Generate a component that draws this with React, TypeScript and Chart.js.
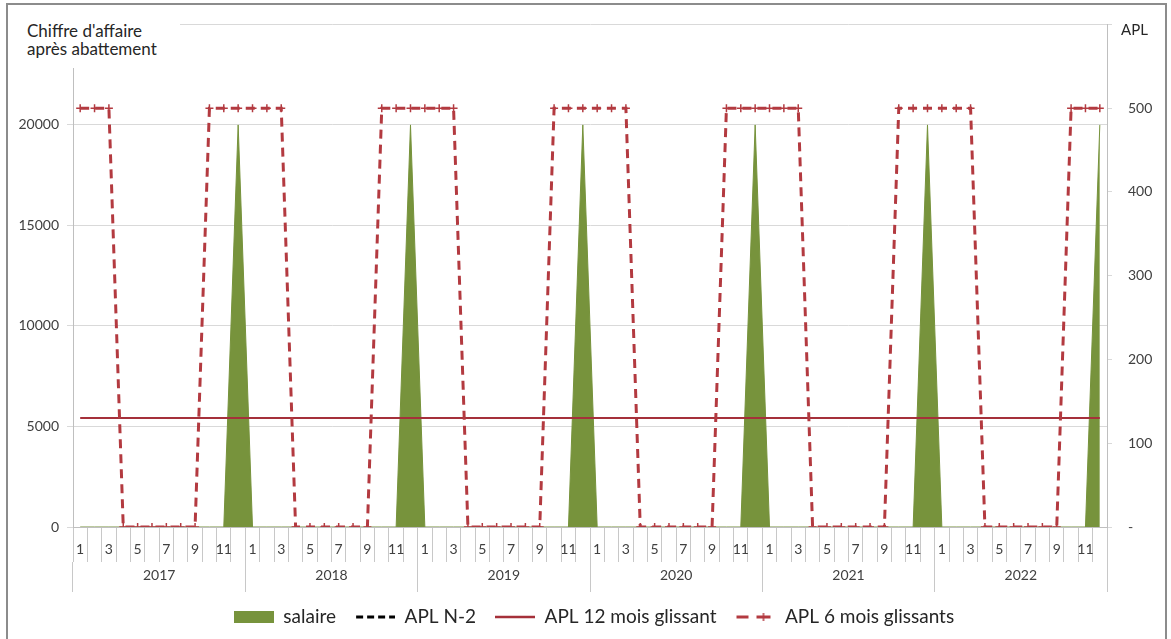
import React, { useEffect, useRef } from 'react';
import { Chart, registerables } from 'chart.js';

Chart.register(...registerables);

const YEARS = ['2017', '2018', '2019', '2020', '2021', '2022'];
const MONTHS = ['1', '2', '3', '4', '5', '6', '7', '8', '9', '10', '11', '12'];
const CATEGORIES = YEARS.flatMap(() => MONTHS);

const SALAIRE = [
  0, 0, 0, 0, 0, 0, 0, 0, 0, 0, 0, 20000,
  0, 0, 0, 0, 0, 0, 0, 0, 0, 0, 0, 20000,
  0, 0, 0, 0, 0, 0, 0, 0, 0, 0, 0, 20000,
  0, 0, 0, 0, 0, 0, 0, 0, 0, 0, 0, 20000,
  0, 0, 0, 0, 0, 0, 0, 0, 0, 0, 0, 20000,
  0, 0, 0, 0, 0, 0, 0, 0, 0, 0, 0, 20000,
];

const APL_N2: (number | null)[] = [];

const APL_12 = [
  130, 130, 130, 130, 130, 130, 130, 130, 130, 130, 130, 130,
  130, 130, 130, 130, 130, 130, 130, 130, 130, 130, 130, 130,
  130, 130, 130, 130, 130, 130, 130, 130, 130, 130, 130, 130,
  130, 130, 130, 130, 130, 130, 130, 130, 130, 130, 130, 130,
  130, 130, 130, 130, 130, 130, 130, 130, 130, 130, 130, 130,
  130, 130, 130, 130, 130, 130, 130, 130, 130, 130, 130, 130,
];

const APL_6 = [
  500, 500, 500, 0, 0, 0, 0, 0, 0, 500, 500, 500,
  500, 500, 500, 0, 0, 0, 0, 0, 0, 500, 500, 500,
  500, 500, 500, 0, 0, 0, 0, 0, 0, 500, 500, 500,
  500, 500, 500, 0, 0, 0, 0, 0, 0, 500, 500, 500,
  500, 500, 500, 0, 0, 0, 0, 0, 0, 500, 500, 500,
  500, 500, 500, 0, 0, 0, 0, 0, 0, 500, 500, 500,
];

const LEGEND_LABELS = ['salaire', 'APL N-2', 'APL 12 mois glissant', 'APL 6 mois glissants'];

const GREEN = '#77933C';
const RED_DASH = '#B33A40';
const RED_SOLID = '#A5303A';
const TEXT = '#404040';
const FONT = "Lato, 'Open Sans', sans-serif";

function makeIcon(draw: (ctx: CanvasRenderingContext2D) => void) {
  const c = document.createElement('canvas');
  c.width = 40;
  c.height = 14;
  const ctx = c.getContext('2d')!;
  draw(ctx);
  return c;
}

export default function App() {
  const ref = useRef<HTMLCanvasElement>(null);

  useEffect(() => {
    document.body.style.margin = '0';
    const canvas = ref.current!;
    Chart.defaults.font.family = FONT;

    const icons = [
      makeIcon((ctx) => {
        ctx.fillStyle = GREEN;
        ctx.fillRect(0, 1, 40, 12);
      }),
      makeIcon((ctx) => {
        ctx.strokeStyle = '#000';
        ctx.lineWidth = 3;
        ctx.setLineDash([7, 4]);
        ctx.beginPath();
        ctx.moveTo(1, 7);
        ctx.lineTo(40, 7);
        ctx.stroke();
      }),
      makeIcon((ctx) => {
        ctx.strokeStyle = RED_SOLID;
        ctx.lineWidth = 2.5;
        ctx.beginPath();
        ctx.moveTo(0, 7);
        ctx.lineTo(40, 7);
        ctx.stroke();
      }),
      makeIcon((ctx) => {
        ctx.strokeStyle = RED_DASH;
        ctx.lineWidth = 3;
        ctx.beginPath();
        ctx.moveTo(1, 7);
        ctx.lineTo(13, 7);
        ctx.moveTo(21, 7);
        ctx.lineTo(35, 7);
        ctx.stroke();
        ctx.lineWidth = 1.5;
        ctx.beginPath();
        ctx.moveTo(28, 3);
        ctx.lineTo(28, 11);
        ctx.stroke();
      }),
    ];

    const chart = new Chart(canvas, {
      type: 'line',
      data: {
        labels: CATEGORIES,
        datasets: [
          {
            label: LEGEND_LABELS[0],
            data: SALAIRE,
            yAxisID: 'y',
            fill: 'origin',
            backgroundColor: GREEN,
            borderColor: GREEN,
            borderWidth: 1,
            pointRadius: 0,
            tension: 0,
            order: 3,
          },
          {
            label: LEGEND_LABELS[1],
            data: APL_N2,
            yAxisID: 'y1',
            borderColor: '#000',
            borderDash: [6, 3],
            borderWidth: 3,
            pointRadius: 0,
            fill: false,
            order: 2,
          },
          {
            label: LEGEND_LABELS[2],
            data: APL_12,
            yAxisID: 'y1',
            borderColor: RED_SOLID,
            borderWidth: 2,
            pointRadius: 0,
            fill: false,
            order: 1,
          },
          {
            label: LEGEND_LABELS[3],
            data: APL_6,
            yAxisID: 'y1',
            borderColor: RED_DASH,
            borderWidth: 3,
            borderDash: [9, 6],
            pointStyle: 'cross',
            pointRadius: 4,
            pointBorderWidth: 1.5,
            pointBorderColor: RED_DASH,
            pointBackgroundColor: RED_DASH,
            fill: false,
            order: 0,
          },
        ],
      },
      options: {
        responsive: false,
        animation: false,
        events: [],
        layout: { padding: { top: 23, bottom: 2.5, left: 17, right: 0 } },
        scales: {
          x: {
            type: 'category',
            position: 'bottom',
            offset: true,
            weight: 0,
            grid: {
              offset: true,
              drawOnChartArea: false,
              drawTicks: true,
              tickLength: 35,
              color: '#c8c8c8',
            },
            border: { color: '#bfbfbf' },
            ticks: {
              autoSkip: false,
              maxRotation: 0,
              minRotation: 0,
              padding: -21,
              color: TEXT,
              font: { size: 14 },
              callback: function (this: any, value: any, index: number) {
                return index % 2 === 0 ? this.getLabelForValue(value) : '';
              },
            },
            afterFit: (s: any) => {
              s.height = 35;
            },
          },
          x2: {
            type: 'category',
            labels: YEARS,
            position: 'bottom',
            offset: true,
            weight: 1,
            grid: {
              offset: true,
              drawOnChartArea: false,
              drawTicks: true,
              tickLength: 30,
              color: '#c8c8c8',
            },
            border: { display: false },
            ticks: {
              autoSkip: false,
              maxRotation: 0,
              minRotation: 0,
              padding: -25,
              color: TEXT,
              font: { size: 14 },
            },
            afterFit: (s: any) => {
              s.height = 26.5;
            },
          },
          y: {
            position: 'left',
            min: 0,
            max: 25000,
            ticks: {
              stepSize: 5000,
              padding: 8,
              color: TEXT,
              font: { size: 14 },
              callback: (v: any) => (v === 25000 ? '' : String(v)),
            },
            grid: { color: '#d9d9d9', tickLength: 6 },
            border: { color: '#bfbfbf' },
            afterFit: (s: any) => {
              s.width = 56;
            },
          },
          y1: {
            position: 'right',
            min: 0,
            max: 600,
            ticks: {
              stepSize: 100,
              padding: 16,
              color: TEXT,
              font: { size: 14 },
              callback: (v: any) => (v === 0 ? '-' : v === 600 ? '' : String(v)),
            },
            grid: { drawOnChartArea: false, tickLength: 5, color: '#d9d9d9' },
            border: { color: '#bfbfbf' },
            afterFit: (s: any) => {
              s.width = 64;
            },
          },
        },
        plugins: {
          tooltip: { enabled: false },
          legend: {
            position: 'bottom',
            labels: {
              usePointStyle: true,
              pointStyleWidth: 40,
              boxHeight: 14,
              padding: 19,
              color: '#262626',
              font: { size: 19 },
              generateLabels: () =>
                LEGEND_LABELS.map((text, i) => ({
                  text,
                  pointStyle: icons[i] as any,
                  fillStyle: 'transparent',
                  strokeStyle: 'transparent',
                  lineWidth: 0,
                  hidden: false,
                  datasetIndex: i,
                  fontColor: '#262626',
                })),
            },
          },
        },
      } as any,
    });

    return () => chart.destroy();
  }, []);

  return (
    <div
      style={{
        position: 'fixed',
        left: 0,
        top: 0,
        width: 1171,
        height: 639,
        background: '#fff',
        overflow: 'hidden',
      }}
    >
      <div
        style={{
          position: 'absolute',
          left: 6,
          top: 3,
          width: 1161,
          height: 700,
          border: '2px solid #8c8c8c',
          boxSizing: 'border-box',
        }}
      />
      <canvas
        ref={ref}
        width={1171}
        height={639}
        style={{ position: 'absolute', left: 0, top: 0, width: 1171, height: 639 }}
      />
      <div
        style={{
          position: 'absolute',
          left: 20,
          top: 15,
          width: 160,
          height: 53,
          background: '#fff',
          boxSizing: 'border-box',
          padding: '7px 0 0 7px',
          fontFamily: FONT,
          fontSize: 17,
          lineHeight: '18px',
          color: '#262626',
          whiteSpace: 'nowrap',
        }}
      >
        Chiffre d'affaire
        <br />
        après abattement
      </div>
      <div
        style={{
          position: 'absolute',
          left: 1121,
          top: 20,
          fontFamily: FONT,
          fontSize: 15,
          lineHeight: '18px',
          color: '#262626',
        }}
      >
        APL
      </div>
    </div>
  );
}
